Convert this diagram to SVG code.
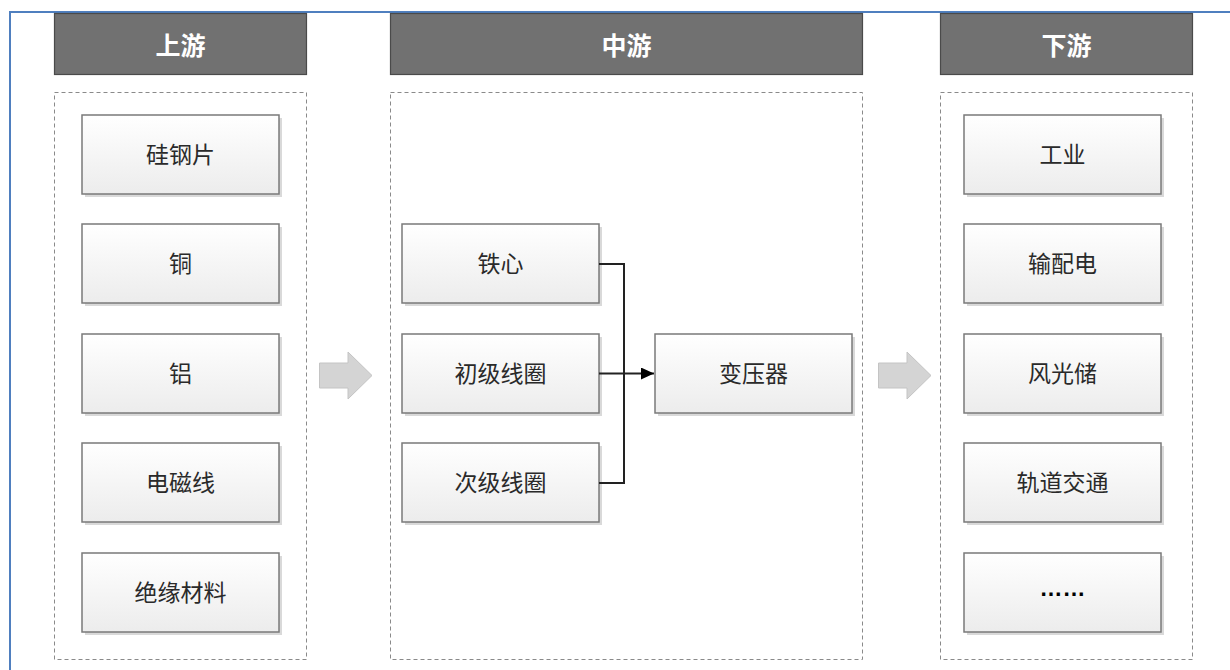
<svg xmlns="http://www.w3.org/2000/svg" width="1230" height="670" viewBox="0 0 1230 670">
<style>
.hdr{fill:#717171;stroke:#4a4a4a;stroke-width:1.2}
.ht{fill:#ffffff;font-family:"Liberation Sans","Noto Sans CJK SC",sans-serif;font-size:25px;font-weight:bold;text-anchor:middle}
.cont{fill:none;stroke:#8a8a8a;stroke-width:1;stroke-dasharray:4 3}
.box{fill:url(#g);stroke:#7a7a7a;stroke-width:1.5}
.sh{fill:#d9d9d9}
.bt{fill:#2a2a2a;font-family:"Liberation Sans","Noto Sans CJK SC",sans-serif;font-size:23px;text-anchor:middle}
.dots{fill:#000;font-family:"Liberation Sans","Noto Sans CJK SC",sans-serif;font-size:23px;font-weight:bold;text-anchor:middle}
.conn{fill:none;stroke:#222;stroke-width:2}
.ga{fill:#d4d4d4;stroke:#c4c4c4;stroke-width:1}
</style>
<defs>
<linearGradient id="g" x1="0" y1="0" x2="0" y2="1">
<stop offset="0" stop-color="#ffffff"/>
<stop offset="1" stop-color="#ececec"/>
</linearGradient>
<marker id="ah" markerWidth="13" markerHeight="12" refX="13" refY="6" orient="auto" markerUnits="userSpaceOnUse">
<path d="M0,0 L13,6 L0,12 Z" fill="#000"/>
</marker>
</defs>
<rect x="0" y="0" width="1230" height="670" fill="#ffffff"/>
<path d="M10,670 L10,12 L1230,12" fill="none" stroke="#4f7fbf" stroke-width="2"/>

<g id="col-up">
<rect class="hdr" x="54.5" y="13.5" width="252" height="61"/>
<text class="ht" x="180.5" y="54.5">上游</text>
<rect class="cont" x="54.5" y="92.5" width="252" height="567"/>
</g>
<g id="col-mid">
<rect class="hdr" x="390.5" y="13.5" width="472" height="61"/>
<text class="ht" x="626.5" y="54.5">中游</text>
<rect class="cont" x="390.5" y="92.5" width="472" height="567"/>
</g>
<g id="col-down">
<rect class="hdr" x="940.5" y="13.5" width="252" height="61"/>
<text class="ht" x="1066.5" y="54.5">下游</text>
<rect class="cont" x="940.5" y="92.5" width="252" height="567"/>
</g>

<g id="n-gui"><rect class="sh" x="85" y="118" width="197" height="79"/><rect class="box" x="82" y="115" width="197" height="79"/><text class="bt" x="180.5" y="163">硅钢片</text></g>
<g id="n-tong"><rect class="sh" x="85" y="227" width="197" height="79"/><rect class="box" x="82" y="224" width="197" height="79"/><text class="bt" x="180.5" y="272">铜</text></g>
<g id="n-lv"><rect class="sh" x="85" y="337" width="197" height="79"/><rect class="box" x="82" y="334" width="197" height="79"/><text class="bt" x="180.5" y="382">铝</text></g>
<g id="n-dcx"><rect class="sh" x="85" y="446" width="197" height="79"/><rect class="box" x="82" y="443" width="197" height="79"/><text class="bt" x="180.5" y="491">电磁线</text></g>
<g id="n-jy"><rect class="sh" x="85" y="556" width="197" height="79"/><rect class="box" x="82" y="553" width="197" height="79"/><text class="bt" x="180.5" y="601">绝缘材料</text></g>

<g id="n-tiexin"><rect class="sh" x="405" y="227" width="197" height="79"/><rect class="box" x="402" y="224" width="197" height="79"/><text class="bt" x="500.5" y="272">铁心</text></g>
<g id="n-chuji"><rect class="sh" x="405" y="337" width="197" height="79"/><rect class="box" x="402" y="334" width="197" height="79"/><text class="bt" x="500.5" y="382">初级线圈</text></g>
<g id="n-ciji"><rect class="sh" x="405" y="446" width="197" height="79"/><rect class="box" x="402" y="443" width="197" height="79"/><text class="bt" x="500.5" y="491">次级线圈</text></g>
<g id="n-byq"><rect class="sh" x="658" y="337" width="197" height="79"/><rect class="box" x="655" y="334" width="197" height="79"/><text class="bt" x="753.5" y="382">变压器</text></g>

<g id="n-gy"><rect class="sh" x="967" y="118" width="197" height="79"/><rect class="box" x="964" y="115" width="197" height="79"/><text class="bt" x="1062.5" y="163">工业</text></g>
<g id="n-spd"><rect class="sh" x="967" y="227" width="197" height="79"/><rect class="box" x="964" y="224" width="197" height="79"/><text class="bt" x="1062.5" y="272">输配电</text></g>
<g id="n-fgc"><rect class="sh" x="967" y="337" width="197" height="79"/><rect class="box" x="964" y="334" width="197" height="79"/><text class="bt" x="1062.5" y="382">风光储</text></g>
<g id="n-gdjt"><rect class="sh" x="967" y="446" width="197" height="79"/><rect class="box" x="964" y="443" width="197" height="79"/><text class="bt" x="1062.5" y="491">轨道交通</text></g>
<g id="n-more"><rect class="sh" x="967" y="556" width="197" height="79"/><rect class="box" x="964" y="553" width="197" height="79"/><text class="dots" x="1062.5" y="596">……</text></g>

<g id="connectors">
<path class="conn" d="M599,264 H624 V483 H599"/>
<path class="conn" d="M599,373.5 H654" marker-end="url(#ah)"/>
<path class="ga" d="M319.5,363 H348 V352 L372,375.5 L348,399 V388 H319.5 Z"/>
<path class="ga" d="M878.5,363 H907 V352 L931,375.5 L907,399 V388 H878.5 Z"/>
</g>
</svg>
